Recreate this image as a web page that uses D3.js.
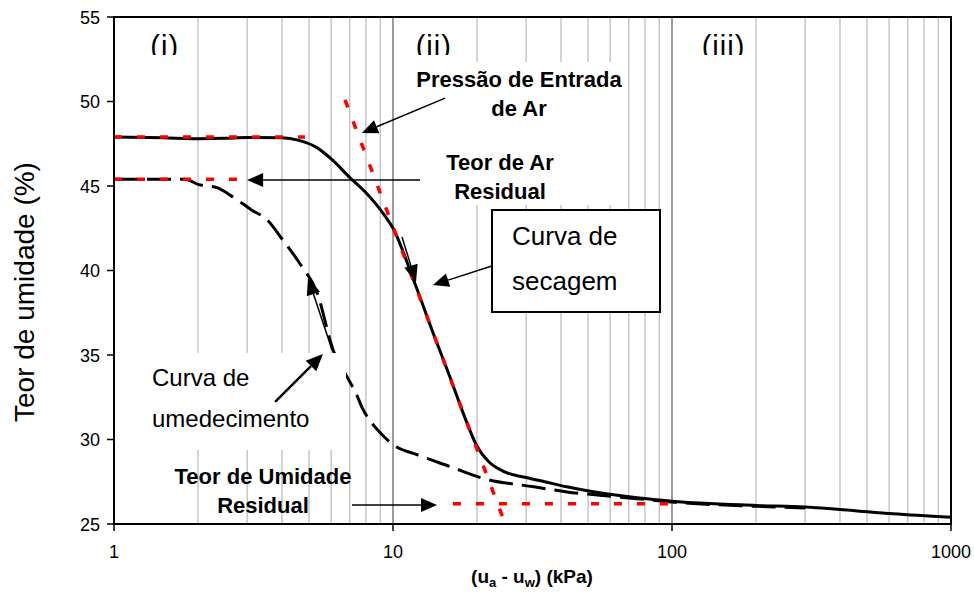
<!DOCTYPE html>
<html><head><meta charset="utf-8">
<script src="https://cdn.jsdelivr.net/npm/d3@7"></script>
<style>body{margin:0;background:#fff}svg{display:block;font-family:Arial,"Liberation Sans",sans-serif}</style>
</head><body><svg id="c" width="974" height="594"></svg>
<script>
// ---- data ----
const xTicks = [1, 10, 100, 1000];
const yTicks = [25, 30, 35, 40, 45, 50, 55];
const dryX = [1,1.5,2,2.5,3,4,4.6,5.3,6.1,7,8,9.2,10,12,14,16,18,20,22,25,30,35,42,55,75,100,200,300,410,620,1000];
const dryW = [47.9,47.85,47.8,47.82,47.87,47.85,47.7,47.3,46.5,45.5,44.6,43.4,42.5,39.2,36.2,33.7,31.4,29.6,28.7,28.1,27.75,27.5,27.2,26.85,26.55,26.35,26.1,26.0,25.85,25.6,25.4];
const wetX = [1,1.8,2,2.34,2.67,3.1,3.54,4.03,4.64,5.34,6.1,6.9,7.43,7.74,8.47,9,10,12.2,16,21,32,42,55,75,100,200,300];
const wetW = [45.4,45.4,45.1,44.9,44.35,43.6,43.0,41.8,40.4,38.7,35.3,33.6,32.6,31.9,30.9,30.4,29.7,29.1,28.4,27.7,27.2,26.9,26.7,26.5,26.3,26.05,25.95];
const satLineX = [1, 4.84],  satLineW = [47.9, 47.9];
const airResX = [1, 2.76],   airResW = [45.4, 45.4];
const tangentX = [6.73, 24.8], tangentW = [50.1, 25.35];
const resLineX = [16.4, 98], resLineW = [26.2, 26.2];
const regionLabels = ["(i)", "(ii)", "(iii)"];
const regionX = [1.52, 14, 153];

// ---- chart ----
const svg = d3.select("#c");
const x = d3.scaleLog().domain([1, 1000]).range([114, 951]);
const y = d3.scaleLinear().domain([25, 55]).range([524, 17]);
const P = (a, b) => [x(a), y(b)];

// grid
const minor = [];
[1, 10, 100].forEach(d => { for (let k = 2; k <= 9; k++) minor.push(d * k); });
svg.append("g").selectAll("line").data(minor).join("line")
  .attr("x1", d => x(d)).attr("x2", d => x(d)).attr("y1", y(55)).attr("y2", y(25))
  .attr("stroke", "#ababab").attr("stroke-width", 1);
svg.append("g").selectAll("line").data([10, 100]).join("line")
  .attr("x1", d => x(d)).attr("x2", d => x(d)).attr("y1", y(55)).attr("y2", y(25))
  .attr("stroke", "#666").attr("stroke-width", 1.3);

const line = d3.line().x(d => x(d[0])).y(d => y(d[1])).curve(d3.curveMonotoneX);
const straight = d3.line().x(d => x(d[0])).y(d => y(d[1]));
const zip = (a, b) => a.map((v, i) => [v, b[i]]);

// curves
svg.append("path").attr("d", line(zip(dryX, dryW))).attr("fill", "none")
  .attr("stroke", "#000").attr("stroke-width", 3);
svg.append("path").attr("d", line(zip(wetX, wetW))).attr("fill", "none")
  .attr("stroke", "#000").attr("stroke-width", 3).attr("stroke-dasharray", "24,9");

// red construction lines
[[satLineX, satLineW], [airResX, airResW], [tangentX, tangentW], [resLineX, resLineW]].forEach(([a, b]) => {
  svg.append("path").attr("d", straight(zip(a, b))).attr("fill", "none")
    .attr("stroke", "#ff0000").attr("stroke-width", 3.5).attr("stroke-dasharray", "8,15");
});

// white boxes behind labels
svg.append("rect").attr("x", 115).attr("y", 353).attr("width", 231).attr("height", 97).attr("fill", "#fff");
svg.append("rect").attr("x", 410).attr("y", 62).attr("width", 218).attr("height", 143).attr("fill", "#fff");

// frame & axes
svg.append("rect").attr("x", x(1)).attr("y", y(55)).attr("width", x(1000) - x(1)).attr("height", y(25) - y(55))
  .attr("fill", "none").attr("stroke", "#000").attr("stroke-width", 2);
svg.append("g").selectAll("line").data(yTicks).join("line")
  .attr("x1", 107).attr("x2", x(1)).attr("y1", d => y(d)).attr("y2", d => y(d))
  .attr("stroke", "#000").attr("stroke-width", 1.5);
svg.append("g").selectAll("line").data(xTicks).join("line")
  .attr("x1", d => x(d)).attr("x2", d => x(d)).attr("y1", y(25)).attr("y2", y(25) + 7)
  .attr("stroke", "#000").attr("stroke-width", 1.5);
svg.append("g").selectAll("text").data(yTicks).join("text")
  .attr("x", 100).attr("y", d => y(d) + 6.5).attr("text-anchor", "end")
  .attr("font-size", 18).text(d => d);
svg.append("g").selectAll("text").data(xTicks).join("text")
  .attr("x", d => x(d)).attr("y", 558).attr("text-anchor", "middle")
  .attr("font-size", 18).text(d => d);

// axis titles
const xt = svg.append("text").attr("x", 532).attr("y", 583).attr("text-anchor", "middle")
  .attr("font-size", 19).attr("font-weight", "bold");
xt.append("tspan").text("(u");
xt.append("tspan").attr("font-size", 13).attr("dy", 4).text("a");
xt.append("tspan").attr("dy", -4).text(" - u");
xt.append("tspan").attr("font-size", 13).attr("dy", 4).text("w");
xt.append("tspan").attr("dy", -4).text(") (kPa)");
svg.append("text").attr("transform", "translate(34,292) rotate(-90)").attr("text-anchor", "middle")
  .attr("font-size", 28).text("Teor de umidade (%)");
// remnant of hidden label
const defs = svg.append("defs");
defs.append("clipPath").attr("id", "remn").append("rect").attr("x", 50).attr("y", 230).attr("width", 14).attr("height", 80);
svg.append("text").attr("clip-path", "url(#remn)").attr("transform", "translate(71,270) rotate(-90)")
  .attr("text-anchor", "middle").attr("font-size", 18).text("w (%)");

// region labels (clipped at bottom)
defs.append("clipPath").attr("id", "regc").append("rect").attr("x", 114).attr("y", 18).attr("width", 836).attr("height", 37);
svg.append("g").attr("clip-path", "url(#regc)").selectAll("text").data(regionLabels).join("text")
  .attr("x", (d, i) => x(regionX[i])).attr("y", 56).attr("text-anchor", "middle")
  .attr("font-size", 29).attr("letter-spacing", 1).text(d => d);

// bold annotations
function bold(lines, cx, ys) {
  lines.forEach((t, i) => svg.append("text").attr("x", cx).attr("y", ys[i]).attr("text-anchor", "middle")
    .attr("font-size", 22).attr("font-weight", "bold").text(t));
}
bold(["Pressão de Entrada", "de Ar"], 519, [87, 116]);
bold(["Teor de Ar", "Residual"], 500, [170, 199]);
bold(["Teor de Umidade", "Residual"], 263, [484, 513]);

// secagem box
svg.append("rect").attr("x", 492).attr("y", 210).attr("width", 168).attr("height", 102)
  .attr("fill", "#fff").attr("stroke", "#000").attr("stroke-width", 2);
svg.append("text").attr("x", 512).attr("y", 245).attr("font-size", 26).text("Curva de");
svg.append("text").attr("x", 512).attr("y", 290).attr("font-size", 26).text("secagem");
// wetting label
svg.append("text").attr("x", 152).attr("y", 386).attr("font-size", 24).text("Curva de");
svg.append("text").attr("x", 152).attr("y", 427).attr("font-size", 24).text("umedecimento");

// arrows
function arrow(from, to, len, hw, sw) {
  const [x1, y1] = P(...from), [x2, y2] = P(...to);
  const dx = x2 - x1, dy = y2 - y1, L = Math.hypot(dx, dy), ux = dx / L, uy = dy / L;
  const bx = x2 - ux * len, by = y2 - uy * len;
  svg.append("line").attr("x1", x1).attr("y1", y1).attr("x2", bx).attr("y2", by)
    .attr("stroke", "#000").attr("stroke-width", sw);
  svg.append("path").attr("d", `M${x2},${y2}L${bx - uy * hw},${by + ux * hw}L${bx + uy * hw},${by - ux * hw}Z`)
    .attr("fill", "#000");
}
arrow([15.37, 50.2], [7.74, 48.14], 16, 7, 1.5);
arrow([12.5, 45.35], [3.0, 45.35], 16, 7, 1.5);
arrow([22.6, 40.27], [13.9, 39.14], 16, 7, 1.5);
arrow([10.77, 41.98], [12.09, 39.32], 17, 7, 1.5);
arrow([6.05, 35.3], [4.96, 39.56], 17, 7, 1.5);
arrow([3.78, 32.22], [5.61, 35.06], 17, 7.5, 2.5);
arrow([7.13, 26.12], [14.38, 26.12], 16, 7, 1.5);
</script></body></html>
